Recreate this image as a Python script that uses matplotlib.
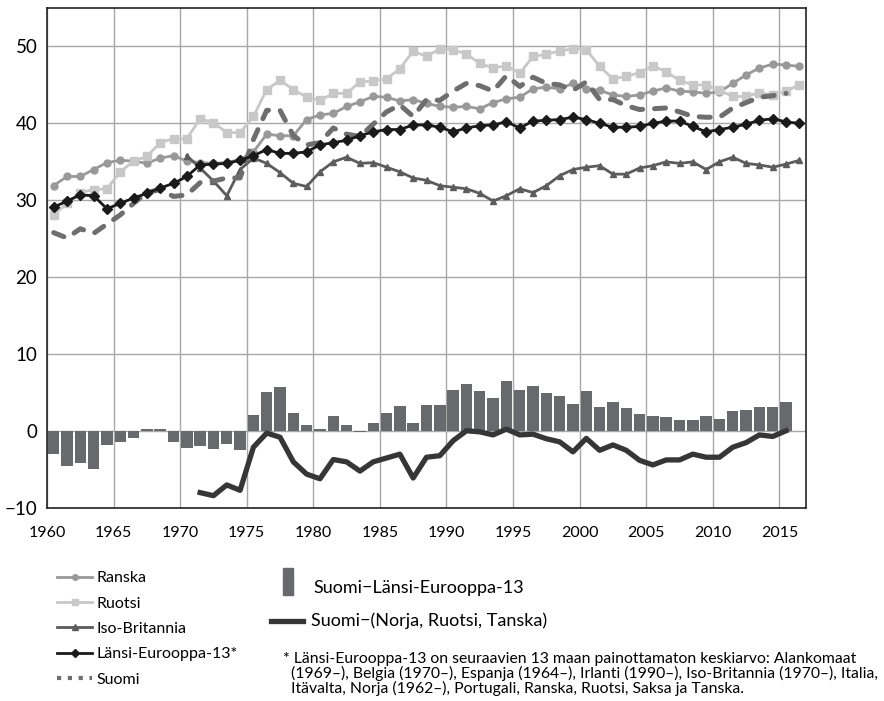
import numpy as np
import matplotlib
matplotlib.use("Agg")
import matplotlib.pyplot as plt
from matplotlib.lines import Line2D
from matplotlib.patches import Rectangle

plt.rcParams['font.family'] = ['Lato', 'DejaVu Sans']

# Arvot luettu kuvasta (vuodet 1960-2016)
years = np.arange(1960, 2017)

ranska = [31.9, 33.1, 33.1, 34.0, 34.9, 35.2, 35.1, 34.8, 35.5, 35.8,
          35.1, 34.9, 34.8, 34.9, 35.3, 36.3, 38.6, 38.4, 38.4, 40.5,
          41.1, 41.3, 42.2, 42.8, 43.5, 43.4, 42.9, 43.1, 42.6, 42.2,
          42.1, 42.2, 41.9, 42.7, 43.2, 43.4, 44.5, 44.7, 44.5, 45.2,
          44.5, 44.3, 43.7, 43.5, 43.7, 44.2, 44.6, 44.2, 44.1, 43.9,
          44.1, 45.2, 46.3, 47.2, 47.7, 47.6, 47.4]

ruotsi = [28.1, 29.6, 31.0, 31.4, 31.5, 33.7, 35.1, 35.7, 37.5, 38.0,
          38.0, 40.6, 40.1, 38.8, 38.8, 40.9, 44.4, 45.6, 44.4, 43.4,
          43.0, 43.9, 43.9, 45.4, 45.5, 45.8, 47.1, 49.4, 48.7, 49.7,
          49.6, 49.0, 47.8, 47.2, 47.5, 46.5, 48.7, 49.0, 49.4, 49.7,
          49.6, 47.4, 45.8, 46.1, 46.6, 47.5, 46.7, 45.6, 45.0, 45.0,
          44.3, 43.5, 43.5, 44.0, 43.7, 44.2, 45.0]

# Iso-Britannia 1970-2016
years_uk = np.arange(1970, 2017)
iso_britannia = [35.8, 34.2, 32.5, 30.6, 34.0, 35.5, 34.8, 33.6, 32.2, 31.8,
                 33.7, 35.0, 35.6, 34.8, 34.9, 34.3, 33.7, 32.9, 32.6, 31.9,
                 31.7, 31.5, 30.9, 29.9, 30.6, 31.5, 31.0, 31.9, 33.2, 34.0,
                 34.3, 34.5, 33.4, 33.4, 34.2, 34.5, 35.0, 34.8, 35.0, 34.0,
                 35.0, 35.6, 34.8, 34.6, 34.3, 34.7, 35.2]

le13 = [29.1, 29.9, 30.7, 30.6, 28.9, 29.6, 30.3, 30.9, 31.6, 32.2,
        33.1, 34.6, 34.7, 34.8, 35.2, 35.8, 36.6, 36.1, 36.1, 36.3,
        37.2, 37.5, 37.8, 38.4, 38.9, 39.2, 39.2, 39.8, 39.8, 39.5,
        38.9, 39.4, 39.7, 39.8, 40.2, 39.4, 40.3, 40.4, 40.5, 40.8,
        40.5, 40.0, 39.5, 39.5, 39.6, 40.0, 40.3, 40.3, 39.6, 38.9,
        39.2, 39.5, 39.9, 40.4, 40.6, 40.2, 40.0]

# Suomi 1960-2015
years_fi = np.arange(1960, 2016)
suomi = [25.8, 25.1, 26.3, 25.7, 26.9, 28.1, 29.6, 31.0, 31.4, 30.5,
         30.7, 32.3, 32.5, 32.9, 32.9, 37.9, 41.7, 41.7, 38.4, 37.2,
         37.5, 39.4, 38.6, 38.3, 39.9, 41.5, 42.4, 40.9, 43.1, 43.0,
         44.2, 45.2, 44.9, 44.2, 46.2, 44.8, 46.0, 45.2, 45.0, 44.3,
         45.4, 43.1, 43.1, 42.3, 41.8, 41.9, 42.0, 41.5, 40.9, 40.8,
         40.8, 42.0, 42.7, 43.4, 43.6, 43.9]

ero_le13 = [-3.0, -4.5, -4.1, -4.9, -1.8, -1.4, -0.9, 0.26, 0.26, -1.4,
            -2.2, -2.0, -2.3, -1.7, -2.4, 2.1, 5.1, 5.7, 2.3, 0.8,
            0.26, 1.9, 0.8, -0.17, 1.0, 2.3, 3.2, 1.0, 3.4, 3.4,
            5.3, 6.1, 5.2, 4.3, 6.5, 5.3, 5.9, 4.9, 4.6, 3.5,
            5.2, 3.1, 3.75, 3.0, 2.2, 1.9, 1.8, 1.4, 1.4, 1.9,
            1.55, 2.6, 2.7, 3.1, 3.1, 3.75]

# Suomi-(Norja, Ruotsi, Tanska) 1971-2015
years_pohj = np.arange(1971, 2016)
ero_pohj = [-8.0, -8.4, -7.0, -7.7, -2.1, -0.26, -0.8, -4.0, -5.6,
            -6.2, -3.7, -4.0, -5.2, -4.0, -3.5, -3.0, -6.1, -3.4, -3.2,
            -1.25, 0.04, -0.1, -0.5, 0.26, -0.5, -0.4, -1.0, -1.4, -2.7,
            -0.95, -2.5, -1.8, -2.5, -3.8, -4.4, -3.75, -3.75, -3.0, -3.4,
            -3.4, -2.1, -1.5, -0.5, -0.7, 0.04]

xticks = np.arange(1960, 2016, 5)
yticks = np.arange(-10, 51, 10)

c_ranska = '#999999'
c_ruotsi = '#c8c8c8'
c_uk = '#5c5c5c'
c_le = '#1a1a1a'
c_suomi = '#6e6e6e'
c_bar = '#68696d'
c_pohj = '#363636'

fig = plt.figure(figsize=(8.84, 7.01), dpi=100)
ax = fig.add_axes([47 / 884, 1 - 508 / 701, 759 / 884, 500 / 701])

# pisteet luokkien keskelle
off = 0.5

ax.bar(years_fi + off, ero_le13, width=0.86, color=c_bar, zorder=2)
ax.plot(years_pohj + off, ero_pohj, color=c_pohj, lw=3.8, zorder=3,
        solid_joinstyle='round')

ax.plot(years + off, ranska, color=c_ranska, lw=2, marker='o', ms=5, zorder=4)
ax.plot(years + off, ruotsi, color=c_ruotsi, lw=2, marker='s', ms=6, zorder=4)
ax.plot(years_uk + off, iso_britannia, color=c_uk, lw=2, marker='^', ms=5, zorder=4)
ax.plot(years_fi + off, suomi, color=c_suomi, lw=3.6, ls=(0, (2.2, 2.4)),
        dash_capstyle='round', zorder=5)
ax.plot(years + off, le13, color=c_le, lw=2, marker='D', ms=5, zorder=6)

ax.set_xlim(1960, 2017)
ax.set_ylim(-10, 55)
ax.set_xticks(xticks)
ax.set_yticks(yticks)
ax.grid(True, color='#a8a8a8', lw=1.0, zorder=0)
ax.set_axisbelow(True)
ax.tick_params(axis='both', length=0)
ax.tick_params(axis='x', labelsize=11.5, pad=13)
ax.tick_params(axis='y', labelsize=13.5, pad=7)
for s in ax.spines.values():
    s.set_color('#222222')
    s.set_linewidth(1.2)

# selitteet
h1 = [Line2D([], [], color=c_ranska, lw=2, marker='o', ms=4),
      Line2D([], [], color=c_ruotsi, lw=2, marker='s', ms=4),
      Line2D([], [], color=c_uk, lw=2, marker='^', ms=4),
      Line2D([], [], color=c_le, lw=2, marker='D', ms=4),
      Line2D([], [], color=c_suomi, lw=3, ls=(0, (1.0, 1.6)))]
l1 = ['Ranska', 'Ruotsi', 'Iso-Britannia', 'Länsi-Eurooppa-13*', 'Suomi']
fig.legend(h1, l1, loc='upper left', bbox_to_anchor=(57 / 884, 1 - 571 / 701),
           frameon=False, fontsize=11.5, handlelength=2.2, handletextpad=0.3,
           labelspacing=0.7, borderpad=0, borderaxespad=0)

fig.patches.append(Rectangle((283 / 884, 1 - 595 / 701), 10 / 884, 27 / 701,
                             transform=fig.transFigure, color=c_bar))
fig.text(313 / 884, 1 - 588 / 701, 'Suomi\u2212Länsi-Eurooppa-13',
         fontsize=13, va='center')
fig.lines.append(Line2D([271 / 884, 303 / 884], [1 - 621 / 701, 1 - 621 / 701],
                        transform=fig.transFigure, color=c_pohj, lw=3.8))
fig.text(311 / 884, 1 - 621 / 701, 'Suomi\u2212(Norja, Ruotsi, Tanska)',
         fontsize=13, va='center')

fig.text(283 / 884, 1 - 652 / 701,
         '* Länsi-Eurooppa-13 on seuraavien 13 maan painottamaton keskiarvo: Alankomaat\n'
         '  (1969\u2013), Belgia (1970\u2013), Espanja (1964\u2013), Irlanti (1990\u2013), '
         'Iso-Britannia (1970\u2013), Italia,\n'
         '  Itävalta, Norja (1962\u2013), Portugali, Ranska, Ruotsi, Saksa ja Tanska.',
         fontsize=11.3, va='top', linespacing=1.0)

fig.savefig('out.png', dpi=100)
